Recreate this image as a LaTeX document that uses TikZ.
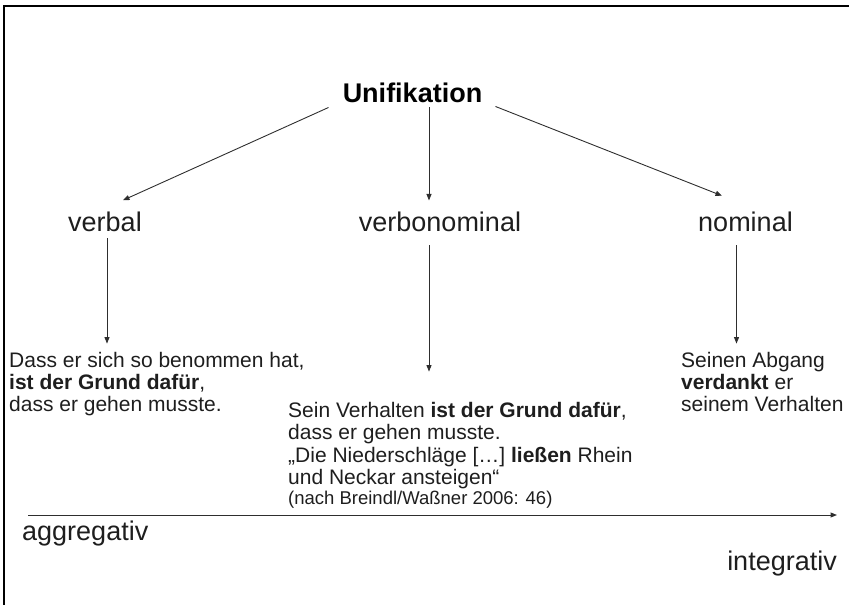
\documentclass[tikz,border=0pt]{standalone}
\usepackage{fontspec}
\setmainfont{Liberation Sans}
\usetikzlibrary{arrows.meta,calc}

\definecolor{ink}{HTML}{1E1E1E}
\definecolor{wire}{HTML}{2E2E2E}

\tikzset{
  heading/.style={font=\bfseries\fontsize{27}{32}\selectfont, text=black, inner sep=0pt, anchor=base},
  kind/.style={font=\fontsize{27}{32}\selectfont, text=ink, inner sep=0pt, anchor=base},
  sentence/.style={font=\fontsize{21}{24}\selectfont, text=ink, inner sep=0pt, anchor=base west},
  source/.style={font=\fontsize{18.5}{21}\selectfont, text=ink, inner sep=0pt, anchor=base west},
  pole/.style={font=\fontsize{27}{32}\selectfont, text=ink, inner sep=0pt},
  arr/.style={draw=wire, line width=0.9pt, -{Triangle[length=6.5pt,width=5pt]}},
  frame/.style={draw=black, line width=2.6pt}
}

\begin{document}
\begin{tikzpicture}[x=1pt,y=-1pt]
  \useasboundingbox (0,0) rectangle (849,605);

  % outer frame (only the top and left edges are visible)
  \draw[frame] (4,605) -- (4,6) -- (849,6);

  % root and the three kinds of unification
  \node[heading] (uni) at (412.5,102.5) {Unifikation};
  \node[kind] (verbal) at (105,231) {verbal};
  \node[kind] (verbonom) at (440,231) {verbonominal};
  \node[kind] (nominal) at (745.5,231) {nominal};

  % example sentences, one node per line
  \node[sentence] (l1) at (9,367) {Dass er sich so benommen hat,};
  \node[sentence] (l2) at (9,389) {\textbf{ist der Grund dafür},};
  \node[sentence] (l3) at (9,411) {dass er gehen musste.};

  \node[sentence] (m1) at (288,417) {Sein Verhalten \textbf{ist der Grund dafür},};
  \node[sentence] (m2) at (288,439.5) {dass er gehen musste.};
  \node[sentence] (m3) at (288,462) {„Die Niederschläge […] \textbf{ließen} Rhein};
  \node[sentence] (m4) at (288,484.5) {und Neckar ansteigen“};
  \node[source] (m5) at (288,504) {(nach Breindl/Waßner 2006: 46)};

  \node[sentence] (r1) at (681,367) {Seinen Abgang};
  \node[sentence] (r2) at (681,389) {\textbf{verdankt} er};
  \node[sentence] (r3) at (681,411) {seinem Verhalten};

  % branches from the root
  \draw[arr] ($(uni.south west)+(-14,4.5)$) -- ($(verbal.north)+(18,-11)$);
  \draw[arr] ($(uni.south)+(16.5,4.5)$) -- ($(uni.south)+(16.5,97.5)$);
  \draw[arr] ($(uni.south east)+(13,3.5)$) -- ($(nominal.north)+(-23.5,-15.5)$);

  % from each kind down to its example
  \draw[arr] ($(verbal.south)+(2,7)$) -- ($(verbal.south |- l1.north)+(2,-8)$);
  \draw[arr] ($(verbonom.south)+(-11,14)$) -- ($(verbonom.south |- m1.north)+(-11,-30)$);
  \draw[arr] ($(nominal.south)+(-9,14)$) -- ($(nominal.south |- r1.north)+(-9,-8)$);

  % scale from aggregative to integrative
  \coordinate (axisL) at (28,515);
  \coordinate (axisR) at (837,515);
  \draw[arr, line width=1pt] (axisL) -- (axisR);
  \node[pole, anchor=base west] (aggr) at (22,540) {aggregativ};
  \node[pole, anchor=base east] (integr) at (837,570) {integrativ};
\end{tikzpicture}
\end{document}
